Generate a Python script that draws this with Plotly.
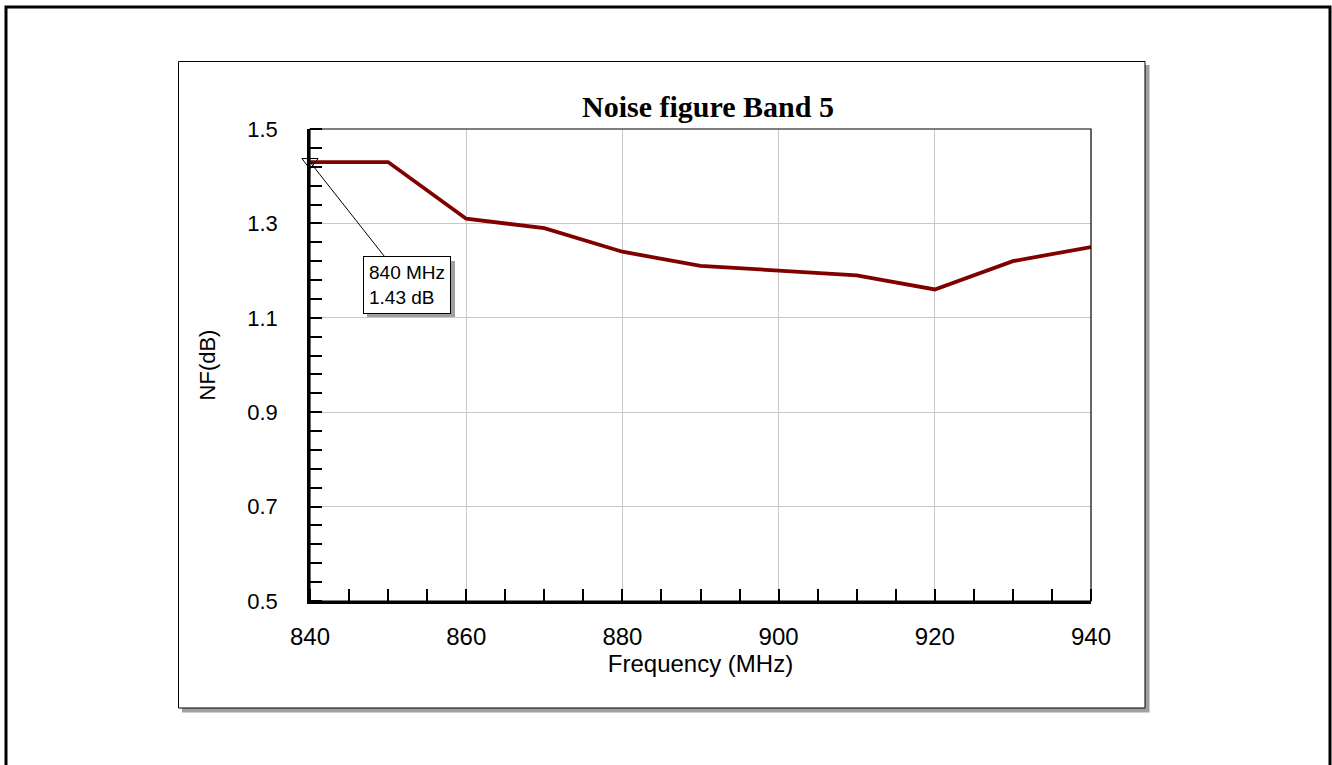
import plotly.graph_objects as go

freq = [840, 850, 860, 870, 880, 890, 900, 910, 920, 930, 940]
nf = [1.43, 1.43, 1.31, 1.29, 1.24, 1.21, 1.20, 1.19, 1.16, 1.22, 1.25]
marker_f = [840]
marker_nf = [1.43]
x_ticks = [840, 860, 880, 900, 920, 940]
y_ticks = [0.5, 0.7, 0.9, 1.1, 1.3, 1.5]

W, H = 1332, 765
L, R, T, B = 310, 1091, 129, 601
pw, ph = R - L, B - T


def px(x):
    return (x - L) / pw


def py(y):
    return (B - y) / ph


fig = go.Figure()
fig.add_trace(go.Scatter(x=freq, y=nf, mode="lines",
                         line=dict(color="#800000", width=3.8),
                         showlegend=False, hoverinfo="skip"))
fig.add_trace(go.Scatter(x=marker_f, y=marker_nf, mode="markers",
                         marker=dict(symbol="triangle-down-open", size=14,
                                     color="black", line=dict(width=1)),
                         showlegend=False, cliponaxis=False))

shapes = [
    # outer border
    dict(type="rect", xref="paper", yref="paper", x0=px(6), x1=px(1330),
         y0=py(790), y1=py(7), line=dict(color="black", width=3), layer="below"),
    # inner box shadow
    dict(type="rect", xref="paper", yref="paper", x0=px(182), x1=px(1149.5),
         y0=py(712.5), y1=py(65), fillcolor="#a0a0a0", line=dict(width=0), layer="below"),
    # inner box
    dict(type="rect", xref="paper", yref="paper", x0=px(178.5), x1=px(1145),
         y0=py(708), y1=py(61.5), fillcolor="white",
         line=dict(color="black", width=1), layer="below"),
    # plot frame
    dict(type="rect", xref="paper", yref="paper", x0=0, x1=1, y0=0, y1=1,
         line=dict(color="black", width=1.2)),
    # shadow of the marker label box (pixel offsets from the marked point)
    dict(type="rect", xref="x", yref="y", xsizemode="pixel", ysizemode="pixel",
         xanchor=marker_f[0], yanchor=marker_nf[0],
         x0=57, x1=145, y0=-155, y1=-99,
         fillcolor="#a0a0a0", line=dict(width=0), layer="above"),
]

ann_text = "840 MHz<br>1.43 dB"
ann_font = "Liberation Sans, Arial"
annotations = [
    dict(x=marker_f[0], y=marker_nf[0], xref="x", yref="y", text=ann_text, showarrow=True,
         arrowhead=0, arrowwidth=1, arrowcolor="black", ax=97, ay=123,
         bgcolor="white", bordercolor="black", borderwidth=1, borderpad=5,
         align="left",
         font=dict(family=ann_font, size=19, color="black")),
    dict(x=px(708), y=py(106), xref="paper", yref="paper", text="<b>Noise figure Band 5</b>",
         showarrow=False, xanchor="center", yanchor="middle",
         font=dict(family="Liberation Serif, Times New Roman", size=30, color="black")),
]

fig.update_layout(
    width=W, height=H,
    margin=dict(l=L, r=W - R, t=T, b=H - B),
    paper_bgcolor="white", plot_bgcolor="white",
    shapes=shapes, annotations=annotations,
    font=dict(family="Liberation Sans, Arial", size=22, color="black"),
)

fig.update_xaxes(
    range=[840, 940], tickvals=x_ticks, ticktext=[str(v) for v in x_ticks],
    ticks="", showgrid=True, gridcolor="#c8c8c8", gridwidth=1,
    showline=True, linecolor="black", linewidth=2.5, zeroline=False,
    tickfont=dict(size=24),
    ticklabelstandoff=12,
    minor=dict(dtick=5, tick0=840, ticks="inside", ticklen=12, tickwidth=1.5,
               tickcolor="black", showgrid=False),
    title=dict(text="Frequency (MHz)", font=dict(size=24), standoff=4),
)
fig.update_yaxes(
    range=[0.5, 1.5], tickvals=y_ticks, ticktext=[f"{v:.1f}" for v in y_ticks],
    ticks="", showgrid=True, gridcolor="#c8c8c8", gridwidth=1,
    showline=True, linecolor="black", linewidth=2.5, zeroline=False,
    tickfont=dict(size=22),
    ticklabelstandoff=25,
    minor=dict(dtick=0.04, tick0=0.5, ticks="inside", ticklen=12, tickwidth=1.5,
               tickcolor="black", showgrid=False),
    title=dict(text="NF(dB)", font=dict(size=22), standoff=26),
)

fig.write_html("out.html", config={"displayModeBar": False},
               post_script="document.body.style.margin='0';document.body.style.overflow='hidden';")
